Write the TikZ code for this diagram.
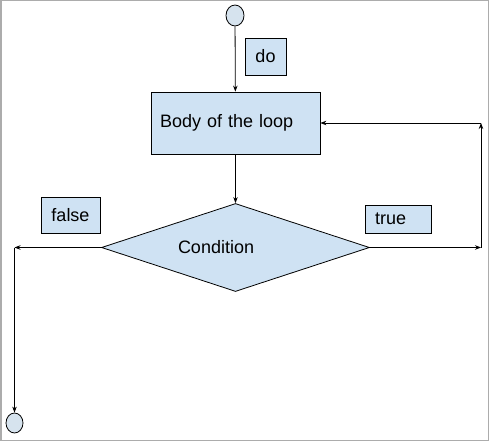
\documentclass[tikz,border=0pt]{standalone}
\usepackage{fontspec}
\setmainfont{Liberation Sans}
\usepackage{tikz}
\usetikzlibrary{shapes.geometric, arrows.meta}

\definecolor{boxblue}{HTML}{CFE2F3}
\definecolor{endblue}{HTML}{D6E3EE}

\begin{document}
\begin{tikzpicture}[x=1pt, y=-1pt, font=\fontsize{18}{21}\selectfont,
	>={Stealth[length=6pt, width=4.5pt]},
	flow/.style={->, line width=0.8pt},
	labelbox/.style={draw, line width=0.8pt, fill=boxblue, inner sep=0pt},
	endpoint/.style={draw, ellipse, line width=0.8pt, fill=endblue, inner sep=0pt}]
	
	\useasboundingbox (0,0) rectangle (489,441);
	\draw [gray!65, line width=1.5pt] (0.75,0.75) rectangle (488.25,440.25);
	
	\node [endpoint, minimum width=18pt, minimum height=21pt] (start) at (235,15.5) {};
	\node [labelbox, minimum width=41pt, minimum height=37pt] (do) at (265.5,56.5) {do};
	\node [labelbox, minimum width=169pt, minimum height=62pt, text width=151pt, align=left] (body) at (235.5,123) {Body of the loop};
	\node [labelbox, diamond, shape aspect=3, minimum width=268pt, minimum height=88pt, text width=115pt, align=left] (cond) at (235.5,247.5) {Condition};
	\node [labelbox, minimum width=59pt, minimum height=36pt] (false) at (70.5,215) {false};
	\node [labelbox, minimum width=66pt, minimum height=28pt, text width=46pt, align=left] (true) at (398,219) {true};
	\node [endpoint, minimum width=17pt, minimum height=20pt] (stop) at (14.5,423) {};
	
	\coordinate (lt) at (14.5,247.5);
	\coordinate (rt) at (481,247.5);
	\coordinate (rtop) at (481,123);
	
	\draw [flow] (start) -- (body);
	\draw [flow] (body) -- (cond);
	\draw [flow] (cond.west) -- (lt);
	\draw [flow] (lt) -- (stop);
	\draw [flow] (cond.east) -- (rt);
	\draw [flow] (rt) -- (rtop);
	\draw [flow] (rtop) -- (body.east);
	\end{tikzpicture}
\end{document}
